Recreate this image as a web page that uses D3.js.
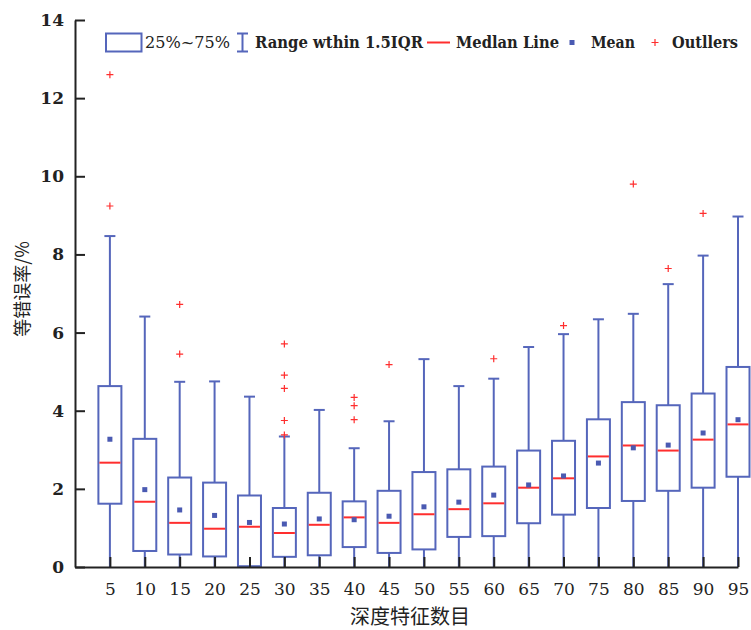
<!DOCTYPE html>
<html>
<head>
<meta charset="utf-8">
<script src="https://cdn.jsdelivr.net/npm/d3@7"></script>
<style>
  body { margin: 0; background: #fff; }
</style>
</head>
<body>
<script>
// data
var a_features = [5, 10, 15, 20, 25, 30, 35, 40, 45, 50, 55, 60, 65, 70, 75, 80, 85, 90, 95];
var a_q1 =     [1.62, 0.41, 0.32, 0.27, 0.02, 0.26, 0.30, 0.51, 0.36, 0.45, 0.77, 0.79, 1.12, 1.34, 1.51, 1.69, 1.95, 2.03, 2.31];
var a_q3 =     [4.63, 3.28, 2.29, 2.16, 1.83, 1.51, 1.90, 1.68, 1.95, 2.43, 2.50, 2.57, 2.98, 3.23, 3.78, 4.22, 4.14, 4.44, 5.12];
var a_median = [2.67, 1.67, 1.13, 0.98, 1.03, 0.87, 1.08, 1.27, 1.13, 1.35, 1.48, 1.63, 2.03, 2.27, 2.83, 3.11, 2.98, 3.26, 3.65];
var a_mean =   [3.27, 1.98, 1.46, 1.32, 1.14, 1.10, 1.23, 1.21, 1.30, 1.54, 1.66, 1.84, 2.10, 2.33, 2.66, 3.05, 3.12, 3.43, 3.77];
var a_whisk_hi = [8.47, 6.41, 4.74, 4.75, 4.36, 3.34, 4.02, 3.04, 3.73, 5.32, 4.63, 4.82, 5.63, 5.96, 6.34, 6.48, 7.24, 7.97, 8.97];
var a_whisk_lo = [0, 0, 0, 0, 0, 0, 0, 0, 0, 0, 0, 0, 0, 0, 0, 0, 0, 0, 0];
var a_outliers = [[12.6, 9.24], [], [6.72, 5.45], [], [], [5.71, 4.91, 4.57, 3.75, 3.38], [], [4.34, 4.13, 3.77],
    [5.18], [], [], [5.33], [], [6.18], [], [9.80], [7.64], [9.05], []];
var a_y_ticks = [0, 2, 4, 6, 8, 10, 12, 14];

var c_blue = "#5566bb";
var c_red = "#ff2e2e";

const v_width = 751, v_height = 630;
const v_box_w = 23;

var svg = d3.select("body").append("svg")
    .attr("width", v_width)
    .attr("height", v_height);

// scales
var x = d3.scaleLinear().domain([0, 95]).range([75, 738]);
var y = d3.scaleLinear().domain([0, 14]).range([567, 20]);

var rows = a_features.map(function(f, i) {
    return {f: f, q1: a_q1[i], q3: a_q3[i], med: a_median[i], mean: a_mean[i],
        hi: a_whisk_hi[i], lo: a_whisk_lo[i], out: a_outliers[i]};
});

var g_boxes = svg.append("g").attr("id", "boxes");

var g_box = g_boxes.selectAll(".box")
    .data(rows)
    .enter().append("g")
    .attr("class", "box");

// whiskers
g_box.append("line")
    .attr("x1", d => x(d.f)).attr("x2", d => x(d.f))
    .attr("y1", d => y(d.q3)).attr("y2", d => y(d.hi))
    .attr("stroke", c_blue).attr("stroke-width", 2);
g_box.append("line")
    .attr("x1", d => x(d.f)).attr("x2", d => x(d.f))
    .attr("y1", d => y(d.q1)).attr("y2", d => y(d.lo))
    .attr("stroke", c_blue).attr("stroke-width", 2);
// caps
g_box.append("line")
    .attr("x1", d => x(d.f) - 5.5).attr("x2", d => x(d.f) + 5.5)
    .attr("y1", d => y(d.hi)).attr("y2", d => y(d.hi))
    .attr("stroke", c_blue).attr("stroke-width", 2);

// box 25-75
g_box.append("rect")
    .attr("x", d => x(d.f) - v_box_w / 2)
    .attr("width", v_box_w)
    .attr("y", d => y(d.q3))
    .attr("height", d => y(d.q1) - y(d.q3))
    .attr("fill", "none")
    .attr("stroke", c_blue).attr("stroke-width", 2);

// median
g_box.append("line")
    .attr("x1", d => x(d.f) - v_box_w / 2 + 1).attr("x2", d => x(d.f) + v_box_w / 2 - 1)
    .attr("y1", d => y(d.med)).attr("y2", d => y(d.med))
    .attr("stroke", c_red).attr("stroke-width", 2);

// mean
g_box.append("rect")
    .attr("x", d => x(d.f) - 2.5)
    .attr("y", d => y(d.mean) - 2.5)
    .attr("width", 5).attr("height", 5)
    .attr("fill", "#4a5ab2");

// outliers
g_box.selectAll(".out")
    .data(d => d.out.map(v => ({f: d.f, v: v})))
    .enter().append("path")
    .attr("class", "out")
    .attr("d", d => `M${x(d.f) - 3.5},${y(d.v)}h7M${x(d.f)},${y(d.v) - 3.5}v7`)
    .attr("stroke", c_red).attr("stroke-width", 1.2).attr("fill", "none");

// axes
var y_axis = d3.axisLeft(y).tickValues(a_y_ticks).tickSizeInner(-10).tickSizeOuter(0).tickPadding(11);
var x_axis = d3.axisBottom(x).tickValues(a_features).tickSizeInner(-10).tickSizeOuter(0).tickPadding(16);

var g_y = svg.append("g")
    .attr("transform", `translate(${x(0)},0)`)
    .call(y_axis);
var g_x = svg.append("g")
    .attr("transform", `translate(0,${y(0)})`)
    .call(x_axis);

[g_x, g_y].forEach(function(g) {
    g.select(".domain").attr("stroke", "#222").attr("stroke-width", 2);
    g.selectAll(".tick line").attr("stroke", "#222").attr("stroke-width", 2);
    g.selectAll(".tick text")
        .attr("fill", "#222")
        .style("font-family", "'DejaVu Serif', serif")
        .style("font-size", "17px");
});
g_y.selectAll(".tick text").style("font-weight", "bold");

// axis titles
svg.append("text")
    .attr("transform", "translate(29,289) rotate(-90)")
    .attr("text-anchor", "middle")
    .style("font-family", "'Noto Sans CJK SC', sans-serif")
    .style("font-size", "18px")
    .attr("fill", "#222")
    .text("等错误率/%");

svg.append("text")
    .attr("x", 410).attr("y", 624)
    .attr("text-anchor", "middle")
    .style("font-family", "'Noto Sans CJK SC', sans-serif")
    .style("font-size", "20px")
    .attr("fill", "#222")
    .text("深度特征数目");

// legend
var g_leg = svg.append("g").attr("id", "legend");
var v_leg_y = 42.5;

g_leg.append("rect")
    .attr("x", 106).attr("y", 33.5).attr("width", 35.5).attr("height", 18)
    .attr("fill", "none").attr("stroke", c_blue).attr("stroke-width", 2);

g_leg.append("path")
    .attr("d", "M237,33.5h11M242.5,33.5v18M237,51.5h11")
    .attr("stroke", c_blue).attr("stroke-width", 2).attr("fill", "none");

g_leg.append("line")
    .attr("x1", 427).attr("x2", 450).attr("y1", v_leg_y).attr("y2", v_leg_y)
    .attr("stroke", c_red).attr("stroke-width", 2);

g_leg.append("rect")
    .attr("x", 569.5).attr("y", v_leg_y - 2.5).attr("width", 5).attr("height", 5)
    .attr("fill", "#4a5ab2");

g_leg.append("path")
    .attr("d", `M651.5,${v_leg_y}h7M655,${v_leg_y - 3.5}v7`)
    .attr("stroke", c_red).attr("stroke-width", 1.2);

var a_leg_text = [
    {t: "25%~75%", x: 145, w: 85, bold: false},
    {t: "Range wthin 1.5IQR", x: 255, w: 168, bold: true},
    {t: "Medlan Line", x: 456, w: 103, bold: true},
    {t: "Mean", x: 591, w: 44, bold: true},
    {t: "Outllers", x: 672, w: 66, bold: true}
];
g_leg.selectAll(".lt")
    .data(a_leg_text)
    .enter().append("text")
    .attr("class", "lt")
    .attr("x", d => d.x).attr("y", 48)
    .attr("textLength", d => d.w)
    .attr("lengthAdjust", "spacingAndGlyphs")
    .style("font-family", "'DejaVu Serif', serif")
    .style("font-size", "17px")
    .style("font-weight", d => d.bold ? "bold" : "normal")
    .attr("fill", "#222")
    .text(d => d.t);
</script>
</body>
</html>
